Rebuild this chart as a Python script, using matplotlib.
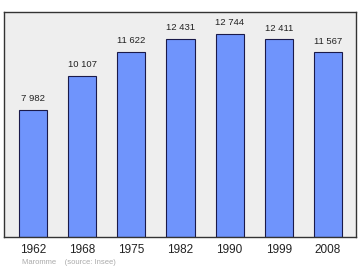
import matplotlib
matplotlib.use("Agg")
import matplotlib.pyplot as plt

plt.rcParams["font.family"] = ["Liberation Sans", "DejaVu Sans"]

years = ["1962", "1968", "1975", "1982", "1990", "1999", "2008"]
population = [7982, 10107, 11622, 12431, 12744, 12411, 11567]
labels = ["7 982", "10 107", "11 622", "12 431", "12 744", "12 411", "11 567"]

fig = plt.figure(figsize=(3.6, 2.7), dpi=100)
ax = fig.add_axes([4 / 360, 33 / 270, 352 / 360, 225 / 270])
ax.set_facecolor("#eeeeee")

x = range(len(years))
ax.bar(x, population, width=0.57, color="#6f94fc", edgecolor="#1a1a4a", linewidth=0.8)
for i, (v, t) in enumerate(zip(population, labels)):
    ax.text(i, v + 400, t, ha="center", va="bottom", fontsize=6.8, color="#222222")

ax.set_xlim(-0.59, 6.57)
ax.set_ylim(0, 14100)
ax.set_yticks([])
ax.set_xticks(list(x))
ax.set_xticklabels(years, fontsize=8.5, color="#222222")
ax.tick_params(axis="x", length=0, pad=5)
for s in ax.spines.values():
    s.set_color("#333333")
    s.set_linewidth(1.0)

fig.text(22 / 360, 1 - 262 / 270, "Maromme    (source: Insee)", fontsize=5.5,
         color="#aaaaaa", va="center")

fig.savefig("out.png", dpi=100)
